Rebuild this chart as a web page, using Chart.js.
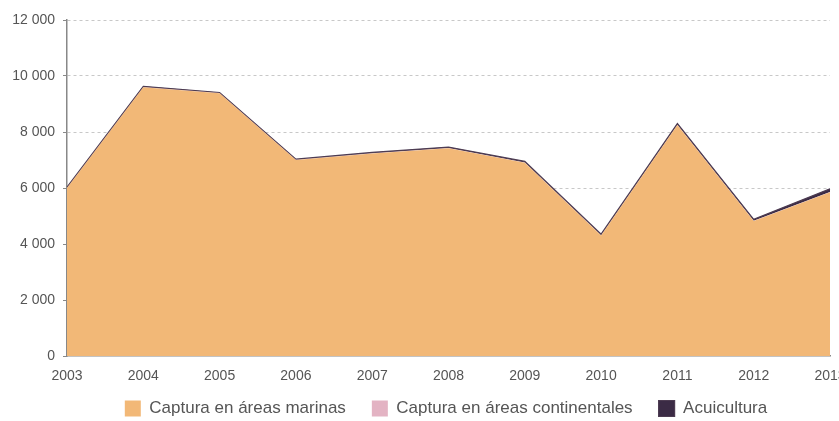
<!DOCTYPE html>
<html>
<head>
<meta charset="utf-8">
<style>
  html, body { margin: 0; padding: 0; background: #fff; }
  #wrap { width: 839px; height: 421px; }
</style>
<script src="https://cdn.jsdelivr.net/npm/chart.js@4.4.0/dist/chart.umd.min.js"></script>
</head>
<body>
<div id="wrap"><canvas id="chart" width="839" height="421"></canvas></div>
<script>
var years = ['2003', '2004', '2005', '2006', '2007', '2008', '2009', '2010', '2011', '2012', '2013'];
var marinas = [6000, 9600, 9380, 7000, 7230, 7420, 6900, 4300, 8250, 4820, 5850];
var continentales = [10, 10, 10, 10, 10, 10, 10, 10, 10, 10, 10];
var acuicultura = [20, 20, 20, 20, 30, 30, 40, 40, 40, 50, 110];
var yTicks = [0, 2000, 4000, 6000, 8000, 10000, 12000];

function fmt(v) {
    return String(v).replace(/\B(?=(\d{3})+(?!\d))/g, ' ');
}

// the legend sits under the plot area, not under the whole canvas
var moveLegend = {
    id: 'moveLegend',
    afterLayout: function (chart) {
        var lg = chart.legend;
        var h = lg.bottom - lg.top;
        lg.left = 62;
        lg.top = 374;
        lg.bottom = 374 + h;
    }
};

var font = 'Liberation Sans';
var ctx = document.getElementById('chart').getContext('2d');
var chart = new Chart(ctx, {
    type: 'line',
    data: {
        labels: years,
        datasets: [
            { label: 'Captura en áreas marinas', data: marinas, backgroundColor: '#f2b877',
              borderColor: '#f2b877', borderWidth: 0, fill: 'origin' },
            { label: 'Captura en áreas continentales', data: continentales, backgroundColor: '#e3b3c3',
              borderColor: '#e3b3c3', borderWidth: 0, fill: '-1' },
            { label: 'Acuicultura', data: acuicultura, backgroundColor: '#3b2b45',
              borderColor: '#4d3c52', borderWidth: 1.2, fill: '-1' }
        ]
    },
    plugins: [moveLegend],
    options: {
        responsive: false,
        animation: false,
        elements: { point: { radius: 0 }, line: { tension: 0 } },
        layout: { padding: { top: 20, right: 9, left: 0, bottom: -16 } },
        plugins: {
            tooltip: { enabled: false },
            legend: {
                position: 'bottom',
                labels: {
                    boxWidth: 16, boxHeight: 16, padding: 26,
                    color: '#555', font: { family: font, size: 17 }
                }
            }
        },
        scales: {
            x: {
                offset: false,
                afterFit: function (s) { s.paddingRight = 0; s.paddingLeft = 0; s.height = 28; },
                grid: { display: false, drawTicks: true, tickLength: 4, color: '#999' },
                border: { color: '#888', width: 1.5 },
                ticks: { color: '#555', font: { family: font, size: 14 }, padding: 8, maxRotation: 0, autoSkip: false }
            },
            y: {
                stacked: true,
                min: 0, max: 12000,
                afterBuildTicks: function (s) { s.ticks = yTicks.map(function (v) { return { value: v }; }); },
                afterFit: function (s) { s.width = 67; },
                grid: {
                    color: function (c) { return c.tick && c.tick.value === 0 ? 'rgba(0,0,0,0)' : '#c8c8c8'; },
                    tickColor: '#888', tickLength: 4, drawTicks: true
                },
                border: { dash: [3, 3], color: '#888', width: 1.5 },
                ticks: {
                    color: '#555', font: { family: font, size: 14 }, padding: 8,
                    callback: function (v) { return fmt(v); }
                }
            }
        }
    }
});
</script>
</body>
</html>
